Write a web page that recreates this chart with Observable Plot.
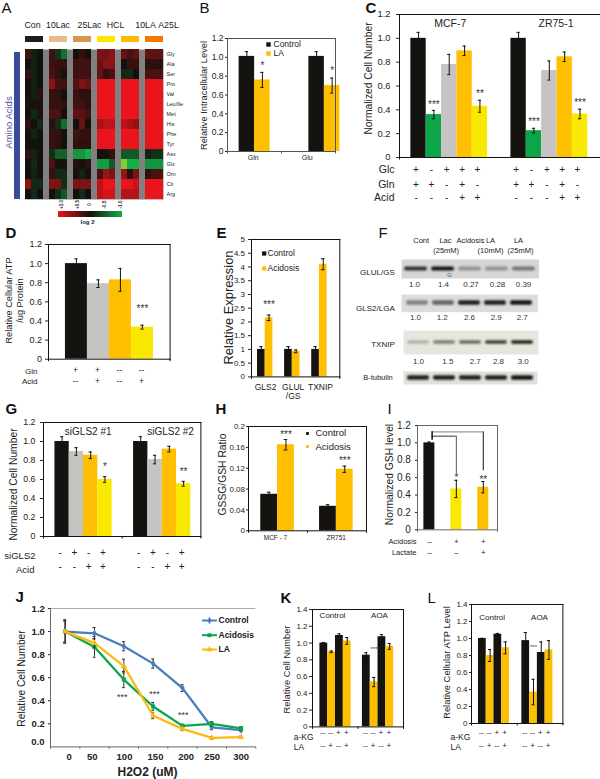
<!DOCTYPE html>
<html><head><meta charset="utf-8">
<script src="https://cdn.jsdelivr.net/npm/d3@7"></script>
<script src="https://cdn.jsdelivr.net/npm/@observablehq/plot@0.6"></script>
<style>
html,body{margin:0;padding:0;background:#fff}
#root{position:relative;width:600px;height:779px;overflow:hidden;background:#fff}
.blur{filter:blur(1px)}
</style></head><body><div id="root"></div>
<script>
// ---------- palette ----------
const BLACK="#14130f",GREEN="#0ba64a",GRAY="#c5c4c2",ORANGE="#fdbf00",YELLOW="#f9e900",BLUE="#4a7ebb";
const FONT="'Liberation Sans',Arial,sans-serif";
// ---------- A: heat map ----------
const treatments=["Con","10Lac","25Lac","HCL","10LA","A25L"];
const treatmentColors=["#1d1d1b","#e8bb8c","#d9964f","#ffe600","#ffb800","#f07a00"];
const aminoAcids=["Gly","Ala","Ser","Pro","Val","Leu/Ile","Met","His","Phe","Tyr","Asx","Glx","Orn","Cit","Arg"];
const heatValues=[
[.2,-.1,0, .2,-.25,-.6, 0,.15,0, .5,.45,.55, .4,.25,.35, .35,.35,.35],
[0,-.1,0, .2,.15,.15, .2,.2,.2, .4,.55,.55, 0,.15,.15, .1,.1,.1],
[.15,-.1,0, .25,.15,0, .2,.2,.2, .35,.15,.25, -.15,-.15,0, .25,.25,.25],
[0,-.1,0, .55,.2,.2, .3,.5,.4, 1,1,1, 1,1,1, 1,1,1],
[0,-.1,.1, .15,.15,0, .2,.12,.12, 1,1,1, 1,1,1, 1,1,1],
[.05,.05,.05, .15,.15,.1, .2,.2,.12, 1,1,1, 1,1,1, 1,1,1],
[0,-.15,.05, .25,.25,0, .35,.35,.2, 1,1,1, 1,1,1, 1,1,1],
[.15,0,-.15, .1,-.2,-.6, 0,.4,0, .7,.8,.8, .8,.7,.6, 1,1,1],
[0,-.12,0, .15,.15,0, .2,.15,.15, 1,1,1, 1,1,1, 1,1,1],
[0,0,0, .15,.12,0, .15,.12,.12, 1,1,1, 1,1,1, 1,1,1],
[.15,-.1,0, -.2,-.5,-.5, -.85,-.85,-1, .02,.02,.15, -.45,-.45,-.45, -.12,-.2,-.2],
[0,-.15,0, .25,.03,.03, .1,0,.1, -.9,-.9,-.45, -1.4,-1,-1, -.85,-.85,-.85],
[0,-.1,0, .15,-.15,-.15, 0,-.12,0, .25,.65,.5, .6,.1,.5, .12,.25,.25],
[.55,-.15,-.15, .5,.5,-.2, .5,.5,.5, .8,1,1, 1,1,.85, 1,1,1],
[0,-.15,0, 0,-.2,-.45, 0,-.15,0, .8,.9,.9, .75,.75,.75, 1,1,1]];
const heatScaleValues=[-1.4,-1,0,1];
const heatScaleColors=["#84cc30","#13ae48","#12110d","#ea141c"];
const logTicks=["+1.0","+0.5","0","-0.5","-1.0"];
// ---------- bar panels ----------
const bValues=[1.01,.76,1.01,.70], bErrors=[.05,.08,.05,.08], bStars=["","*","","*"];
const cValues=[1,.36,.78,.895,.43, 1,.225,.73,.845,.365], cErrors=[.05,.035,.085,.04,.05, .05,.02,.08,.04,.04];
const cStars=["","***","","","**","","***","","","***"];
const cGlc=["+","-","+","+","+","+","-","+","+","+"], cGln=["+","+","-","+","-","+","+","-","+","-"], cAcid=["-","-","-","+","+","-","-","-","+","+"];
const dValues=[1,.79,.83,.335], dErrors=[.05,.04,.12,.02], dStars=["","","","***"];
const dGln=["+","+","--","--"], dAcid=["--","+","--","+"];
const eValues=[1,2.15,1,.93,1,4.1], eErrors=[.1,.1,.1,.05,.1,.2], eStars=["","***","","","",""];
const gValues=[1,.895,.855,.60, 1,.81,.92,.555], gErrors=[.05,.04,.035,.03, .05,.045,.03,.025], gStars=["","","","*","","","","**"];
const gSi=["-","+","-","+","-","+","-","+"], gAcid=["-","-","+","+","-","-","+","+"];
const hValues=[.07,.165,.047,.118], hErrors=[.004,.01,.003,.006], hStars=["","***","","***"];
const iValues=[1,.47,.49], iErrors=[.01,.1,.065], iStars=["","*","**"];
const iAcid=["\u2013","+","+"], iLact=["\u2013","\u2013","+"];
const kValues=[1,.895,1.09,1.025, .855,.535,1.075,.96], kErrors=[.005,.01,.02,.04, .03,.055,.025,.035], kStars=["","","","","","***","",""];
const lValues=[1,.80,1.05,.89, .975,.37,.835,.865], lErrors=[.003,.07,.01,.07, .095,.15,.125,.11], lStars=["","","","","","***","",""];
const klKg=["--","--","+","+","--","--","+","+"], klLa=["--","+","--","+","--","+","--","+"];
// ---------- F: blots ----------
const lanes=["Cont","Lac","Acidosis","LA10","LA25"];
const glulBands=[.85,1,.35,.35,.5], glsBands=[.45,.6,.95,.95,1], txnipBands=[.25,.5,.6,.8,.95], tubulinBands=[.95,.95,.95,.95,1];
const glulRatios=["1.0","1.4","0.27","0.28","0.39"], glsRatios=["1.0","1.2","2.6","2.9","2.7"], txnipRatios=["1.0","1.5","2.7","2.8","3.0"];
// ---------- J: lines ----------
const h2o2=[0,50,100,150,200,250,300];
const jControl=[1,.985,.873,.722,.51,.17,.145], jControlErr=[.1,.05,.04,.04,.03,.02,.01];
const jAcidosis=[1,.867,.584,.35,.182,.2,.16], jAcidosisErr=[.1,.09,.07,.035,.015,.02,.015];
const jLA=[1,.9,.7,.27,.156,.078,.084], jLAErr=[.09,.04,.06,.025,.015,.01,.01];

const root=document.getElementById("root");
const notes=[];
function note(t,x,y,size,o={}){notes.push(Plot.text([{t,x,y}],{x:"x",y:"y",text:"t",fontSize:size,fill:"#222",lineAnchor:"middle",...o}));}
function place([l,t,r,b],[pl,pt,pr,pb],opts){
  const p=Plot.plot({width:r-l+pl+pr,height:b-t+pt+pb,marginLeft:pl,marginTop:pt,marginRight:pr,marginBottom:pb,
    style:{background:"transparent",overflow:"visible",fontFamily:FONT,position:"absolute",left:(l-pl)+"px",top:(t-pt)+"px",maxWidth:"none",color:"#222"},...opts});
  root.append(p);return p;
}
const f1=d=>d===0?"0":d.toFixed(1);
function barPanel(s){
  const [l,t,r,b]=s.frame,size=s.size,gap=s.gap,barW=s.barW,y0=s.yDomain[0],yM=s.yDomain[1];
  const data=s.values.map((v,i)=>{const x1=i+Math.floor(i/size)*gap;return {x1,x2:x1+1,mid:x1+.5,v,e:s.errors[i],c:s.colors[i%s.colors.length],star:(s.stars||[])[i]||""};});
  const dom=[-s.lead,(r-l)/barW-s.lead];
  const cap=(s.cap||1.6)/barW;
  const sides=s.sides||["top","right","bottom","left"];
  const xt=s.midTick===false?[dom[0],dom[1]]:[dom[0],(dom[0]+dom[1])/2,dom[1]];
  (s.titles||[]).forEach(([txt,x,y,fs])=>note(txt,x,y,fs,{rotate:-90}));
  place(s.frame,[70,12,12,60],{
    x:{domain:dom,axis:null},y:{domain:s.yDomain},
    marks:[
      Plot.rectY(data,{x1:"x1",x2:"x2",y:"v",fill:"c"}),
      Plot.ruleX(data,{x:"mid",y1:d=>d.v-d.e,y2:d=>d.v+d.e,stroke:"#111",strokeWidth:1}),
      Plot.ruleY(data,{y:d=>d.v+d.e,x1:d=>d.mid-cap,x2:d=>d.mid+cap,stroke:"#111",strokeWidth:1}),
      Plot.ruleY(data,{y:d=>d.v-d.e,x1:d=>d.mid-cap,x2:d=>d.mid+cap,stroke:"#111",strokeWidth:1}),
      ...sides.map(a=>Plot.frame({anchor:a,stroke:s.frameColor||"#111",strokeWidth:1})),
      Plot.axisY({ticks:s.yTicks,tickFormat:s.yFormat||f1,tickSize:s.tickSize||3,tickPadding:s.tickPad??1.5,fontSize:s.tickFont||10,label:null,fontVariant:"normal"}),
      Plot.ruleX(xt,{x:d=>d,y1:y0,y2:y0-(yM-y0)*2.5/(b-t),stroke:s.frameColor||"#111",clip:false}),
      Plot.text(data.filter(d=>d.star),{x:"mid",y:d=>d.v+d.e,text:"star",dy:s.starDy,fontSize:s.starFont||10,fill:"#333"}),
      ...(s.rows||[]).map(row=>Plot.text(row.marks.map((m,i)=>({m,mid:data[i].mid})),{x:"mid",y:y0,text:"m",dy:row.dy,dx:s.rowDx||0,fontSize:s.rowFont||9.5,fill:"#222"})),
      ...(s.extra||[])
    ]});
}
// A heat
const heatCells=heatValues.flatMap((row,r)=>row.map((v,c)=>({acid:aminoAcids[r],slot:c+Math.floor(c/3),v})));
place([25,49,163,199],[4,0,30,4],{
  x:{type:"band",domain:d3.range(23),padding:0,axis:null},
  y:{type:"band",domain:aminoAcids,padding:0},
  color:{type:"linear",domain:heatScaleValues,range:heatScaleColors,clamp:true},
  marks:[Plot.frame({fill:"#808080"}),
    Plot.cell(heatCells,{x:"slot",y:"acid",fill:"v",inset:0}),
    Plot.axisY({anchor:"right",tickSize:0,tickPadding:3,fontSize:5.5,label:null,fill:"#222"})]});
place([25,36,163,42],[0,0,0,0],{
  x:{type:"band",domain:treatments,paddingInner:.25,paddingOuter:0,axis:null},
  y:{domain:[0,1],axis:null},
  marks:[Plot.rectY(treatments.map((t,i)=>({t,c:treatmentColors[i]})),{x:"t",y:1,fill:"c"})]});

// bar panels
const y12=[0,.2,.4,.6,.8,1,1.2], y14=[0,.2,.4,.6,.8,1,1.2,1.4];
barPanel({frame:[227,38,335,151],values:bValues,errors:bErrors,stars:bStars,colors:[BLACK,ORANGE],size:2,gap:2.5,lead:.75,barW:15.5,
  yDomain:[0,1.2],yTicks:y12,titles:[["Relative Intracellular Level",204,95,9.3]],starDy:-7,frameColor:"#555",tickSize:2,tickPad:2,tickFont:8.5});
barPanel({frame:[399.3,13.7,610,156.7],values:cValues,errors:cErrors,stars:cStars,colors:[BLACK,GREEN,GRAY,ORANGE,YELLOW],size:5,gap:1.52,lead:.74,barW:15.35,
  yDomain:[0,1.2],yTicks:y12,titles:[["Normalized Cell Number",368,78,10.3]],starDy:-6,sides:["top","left","bottom"],tickFont:9.3,tickPad:6,midTick:false,
  rows:[{marks:cGlc,dy:12.3},{marks:cGln,dy:27.3},{marks:cAcid,dy:40.6}],rowDx:-2.5,rowFont:10});
barPanel({frame:[47.7,244.3,169.3,359],values:dValues,errors:dErrors,stars:dStars,colors:[BLACK,GRAY,ORANGE,YELLOW],size:4,gap:0,lead:.77,barW:22,
  yDomain:[0,1.2],yTicks:y12,titles:[["Relative Cellular ATP",9,300,9.2],["/ug Protein",20,300,9.2]],starDy:-16,tickFont:9,tickPad:3.4,midTick:false,
  rows:[{marks:dGln,dy:11},{marks:dAcid,dy:22}],rowDx:-1,rowFont:8.5});
barPanel({frame:[251,239.3,339.3,376.7],values:eValues,errors:eErrors,stars:eStars,colors:[BLACK,ORANGE],size:2,gap:1.52,lead:.78,barW:7.7,
  yDomain:[0,5],yTicks:[0,.5,1,1.5,2,2.5,3,3.5,4,4.5,5],yFormat:d=>String(d),titles:[["Relative Expression",228,307,12.9]],starDy:-10,tickFont:8,tickPad:3.5,midTick:false,cap:1.8});
barPanel({frame:[43.3,421.7,200.7,535.7],values:gValues,errors:gErrors,stars:gStars,colors:[BLACK,GRAY,ORANGE,YELLOW],size:4,gap:1.5,lead:.8,barW:14.3,
  yDomain:[0,1.2],yTicks:y12,titles:[["Normalized Cell Number",13,484,10.3]],starDy:-10,tickFont:8.8,tickPad:5,
  rows:[{marks:gSi,dy:16.3},{marks:gAcid,dy:30.3}],rowDx:-2,rowFont:10});
barPanel({frame:[247.7,425.7,365.7,530],values:hValues,errors:hErrors,stars:hStars,colors:[BLACK,ORANGE],size:2,gap:1.5,lead:.73,barW:16.8,
  yDomain:[0,.2],yTicks:[0,.04,.08,.12,.16,.2],yFormat:d=>String(d),titles:[["GSSG/GSH Ratio",222,474,10.3]],starDy:-5,tickFont:8,tickSize:2,tickPad:1.5,cap:1.8});
barPanel({frame:[417.3,425,497.3,529.3],values:iValues,errors:iErrors,stars:iStars,colors:[BLACK,YELLOW,ORANGE],size:1,gap:1.45,lead:.58,barW:11,
  yDomain:[0,1.2],yTicks:y12,titles:[["Normalized GSH level",389,474,10.3]],starDy:-2,tickFont:10,tickSize:2,tickPad:4.6,midTick:false,frameColor:"#666",
  rows:[{marks:iAcid,dy:11.7},{marks:iLact,dy:22.7}],rowFont:8,
  extra:[Plot.ruleY([1.127],{x1:.75,x2:5.4,stroke:"#999",strokeWidth:1.2}),Plot.ruleX([5.4],{y1:.68,y2:1.127,stroke:"#111"}),
    Plot.ruleY([1.077],{x1:.75,x2:2.95,stroke:"#555",strokeWidth:1.2}),Plot.ruleX([2.95],{y1:.644,y2:1.077,stroke:"#555"}),
    Plot.ruleX([.75],{y1:1.03,y2:1.127,stroke:"#111",strokeWidth:1.5})]});
barPanel({frame:[311.7,609.3,402.7,726.7],values:kValues,errors:kErrors,stars:kStars,colors:[BLACK,ORANGE],size:4,gap:1.45,lead:.95,barW:7.8,
  yDomain:[0,1.4],yTicks:y14,titles:[["Relative Cell Number",286.7,669,9.3]],starDy:-28,starFont:6,tickFont:8,tickPad:2,
  rows:[{marks:klKg,dy:6},{marks:klLa,dy:18.3}],rowDx:-1,rowFont:8});
barPanel({frame:[471.3,604.3,562.7,723.3],values:lValues,errors:lErrors,stars:lStars,colors:[BLACK,ORANGE],size:4,gap:1.6,lead:.9,barW:7.75,
  yDomain:[0,1.4],yTicks:y14,titles:[["Relative Cellular ATP Level",446.7,662,9.4]],starDy:-32,starFont:6,tickFont:8,tickSize:2,tickPad:2,
  rows:[{marks:klKg,dy:9.4},{marks:klLa,dy:21.7}],rowDx:-1,rowFont:8});

// F blots
function blot(frame,bands,bg,h){
  const data=lanes.map((lane,i)=>({lane,c:d3.interpolateRgb(bg,"#15120e")(bands[i])}));
  const H=frame[3]-frame[1],inset=(H-h)/2;
  place(frame,[0,0,0,0],{
    x:{type:"band",domain:lanes,paddingInner:.14,paddingOuter:.1,axis:null},
    y:{type:"band",domain:["band"],axis:null,padding:0},
    marks:[Plot.frame({fill:bg}),
      Plot.cell(data,{x:"lane",y:()=>"band",fill:"c",insetTop:inset,insetBottom:inset,rx:2,className:"blur"})]});
}
blot([400.7,259.3,538.3,278.3],glulBands,"#d6d6d4",4);
blot([400.7,294,537,311.7],glsBands,"#dcdcda",5);
blot([403,330,538,354],txnipBands,"#e6e6de",3.5);
blot([403,371,537,384],tubulinBands,"#e0e0dc",4.5);

// J lines
const series=[["Control",jControl,jControlErr,BLUE,"diamond"],["Acidosis",jAcidosis,jAcidosisErr,GREEN,"square"],["LA",jLA,jLAErr,"#fdb913","triangle"]]
  .map(([name,vals,errs,color,symbol])=>({color,symbol,rows:h2o2.map((x,i)=>({x,v:vals[i],e:errs[i]}))}));
place([50,608.3,255.3,746.7],[60,12,12,20],{
  x:{domain:[-25,325],axis:null},y:{domain:[0,1.2]},
  marks:[
    Plot.ruleY([1.2],{stroke:"#aaa"}),
    Plot.ruleX([-25],{stroke:"#666"}),Plot.ruleY([0],{stroke:"#666"}),
    Plot.axisY({ticks:[.2,.4,.6,.8,1,1.2],tickFormat:d=>d.toFixed(1),tickSize:2,tickPadding:3.7,fontSize:9.5,fontWeight:"bold",label:null}),
    Plot.ruleX([-25,25,75,125,175,225,275,325],{x:d=>d,y1:0,y2:-.02,stroke:"#666",clip:false}),
    ...series.flatMap(s=>[
      Plot.ruleX(s.rows,{x:"x",y1:d=>d.v-d.e,y2:d=>d.v+d.e,stroke:"#333",strokeWidth:1}),
      Plot.ruleY(s.rows,{y:d=>d.v+d.e,x1:d=>d.x-2.5,x2:d=>d.x+2.5,stroke:"#333"}),
      Plot.ruleY(s.rows,{y:d=>d.v-d.e,x1:d=>d.x-2.5,x2:d=>d.x+2.5,stroke:"#333"}),
      Plot.line(s.rows,{x:"x",y:"v",stroke:s.color,strokeWidth:2.3}),
      Plot.dot(s.rows,{x:"x",y:"v",symbol:s.symbol,r:2.3,fill:s.color})])
  ]});

// free annotations, in page pixels
const left={textAnchor:"start"},right={textAnchor:"end"},bold={fontWeight:"bold"};
[["A",1,false,8],["B",199,false,8],["C",365,true,8],["D",5,true,233],["E",216,true,233],["F",378,false,233],["G",5,true,409],["H",215,true,409],["I",387,false,409],["J",15,true,597],["K",280,true,598],["L",427,false,598]]
  .forEach(([t,x,b,y])=>note(t,x,y,15,{textAnchor:"start",fill:"#111",fontWeight:b?"bold":"normal"}));
treatments.forEach((t,i)=>note(t,[32,57.5,89,115,145,168][i],25,8.8));
note("Amino Acids",8,122,9.5,{rotate:-90,fill:"#4a56a6"});
logTicks.forEach((t,i)=>note(t,[61,77,89,104,120][i],204,4.5,{rotate:-90,fontWeight:"bold"}));
note("log 2",87,222,6,bold);
// B
note("Control",273,44,8.5,left);note("LA",273,53,8.5,left);
note("Gln",252.7,157.7,7);note("Glu",306.7,157.7,7);
// C
note("MCF-7",449.8,23,10.5);note("ZR75-1",555.5,23,10.5);
note("Glc",394,169,10.5,right);note("Gln",394,184,10.5,right);note("Acid",394,197.3,10.5,right);
// D
note("Gln",37,371,8,right);note("Acid",37,381,8,right);
// E
note("Control",267,253,8.5,left);note("Acidosis",267,268,8.5,left);
note("GLS2",265,386.7,8.5);note("GLUL",292.7,386.7,8.5);note("/GS",292.7,396,8.5);note("TXNIP",320,386.7,8.5);
// F
[["Cont",420.7,240],["Lac",445,240],["(25mM)",445.7,250],["Acidosis",470,240],["LA",490,240],["(10mM)",490,250],["LA",518,240],["(25mM)",520,250]]
  .forEach(([t,x,y])=>note(t,x,y,7.5));
note("G",449,275,6,{fill:"#555"});
[[glulRatios,[414,443,470.5,497,523],284.3],[glsRatios,[415,441.7,469,495.7,521.7],317],[txnipRatios,[418,447.3,474.7,498,522.7],361]]
  .forEach(([ts,xs,y])=>ts.forEach((t,i)=>note(t,xs[i],y,8,{fill:"#333"})));
note("GLUL/GS",394.3,271.7,8,right);note("GLS2/LGA",394.3,308,8,right);note("TXNIP",394.3,344,8,right);note("B-tubulin",392.3,376.7,7.5,right);
// G
note("siGLS2 #1",87.7,431,10);note("siGLS2 #2",170,431,10);
note("siGLS2",35,555.7,9.5,right);note("Acid",34,569,9.5,right);
// H
note("Control",315,432,9.5,left);note("Acidosis",315,446,9.5,left);
note("MCF - 7",275,537,6.5);note("ZR751",335.7,537,6.5);
// I
note("Acidosis",416,541,7.5,right);note("Lactate",416,552,7.5,right);
// J
note("Relative Cell Number",21,678,10.2,{rotate:-90});
note("0.0",44,741.7,9.5,{textAnchor:"end",fontWeight:"bold"});
h2o2.forEach((t,i)=>note(String(t),[68.7,91.7,124,155,185.7,211.7,240.7][i],756.7,9.5,bold));
note("H2O2 (uM)",147,772,12,bold);
note("Control",218,620,8.5,{textAnchor:"start",fontWeight:"bold"});note("Acidosis",218,634.7,8.5,{textAnchor:"start",fontWeight:"bold"});note("LA",218,649,8.5,{textAnchor:"start",fontWeight:"bold"});
note("***",121.7,697,9,{fill:"#333"});note("***",154,694,9,{fill:"#333"});note("***",182.7,715,9,{fill:"#333"});
// K, L
note("Control",332,615,8);note("AOA",379,615,8);
note("a-KG",293.3,736.7,8.5,left);note("LA",293.3,747,8.5,left);
note("Control",491.7,616.7,8);note("AOA",539,616.7,8);
note("a-KG",450,736.7,8.5,left);note("LA",450,747,8.5,left);

const sq=(x,y,c,r)=>Plot.dot([{x,y}],{x:"x",y:"y",symbol:"square",r,fill:c});
const legendLine=(y,c,s)=>[Plot.ruleY([y],{x1:202,x2:217,stroke:c,strokeWidth:2}),Plot.dot([{x:209,y}],{x:"x",y:"y",symbol:s,r:2.2,fill:c})];
root.append(Plot.plot({width:600,height:779,margin:0,style:{background:"transparent",fontFamily:FONT,position:"absolute",left:0,top:0},
  x:{type:"identity",axis:null},y:{type:"identity",axis:null},
  marks:[
    Plot.rect([{}],{x1:14,x2:20,y1:52,y2:199,fill:"#3b4a9c"}),
    sq(268,44,BLACK,2.5),sq(268,53,ORANGE,2.5),
    sq(263.7,253,BLACK,2.4),sq(263.7,268,ORANGE,2.4),
    sq(307,433,BLACK,1.6),sq(307,446,ORANGE,1.6),
    ...legendLine(620,BLUE,"diamond"),...legendLine(634.7,GREEN,"square"),...legendLine(649,"#fdb913","triangle"),
    ...notes
  ]}));
// log2 colour bar
const bar=document.createElement("div");
bar.style.cssText="position:absolute;left:58px;top:210.7px;width:64px;height:6px;background:linear-gradient(90deg,#ea141c,#12110d 50%,#13ae48)";
root.append(bar);
</script></body></html>
